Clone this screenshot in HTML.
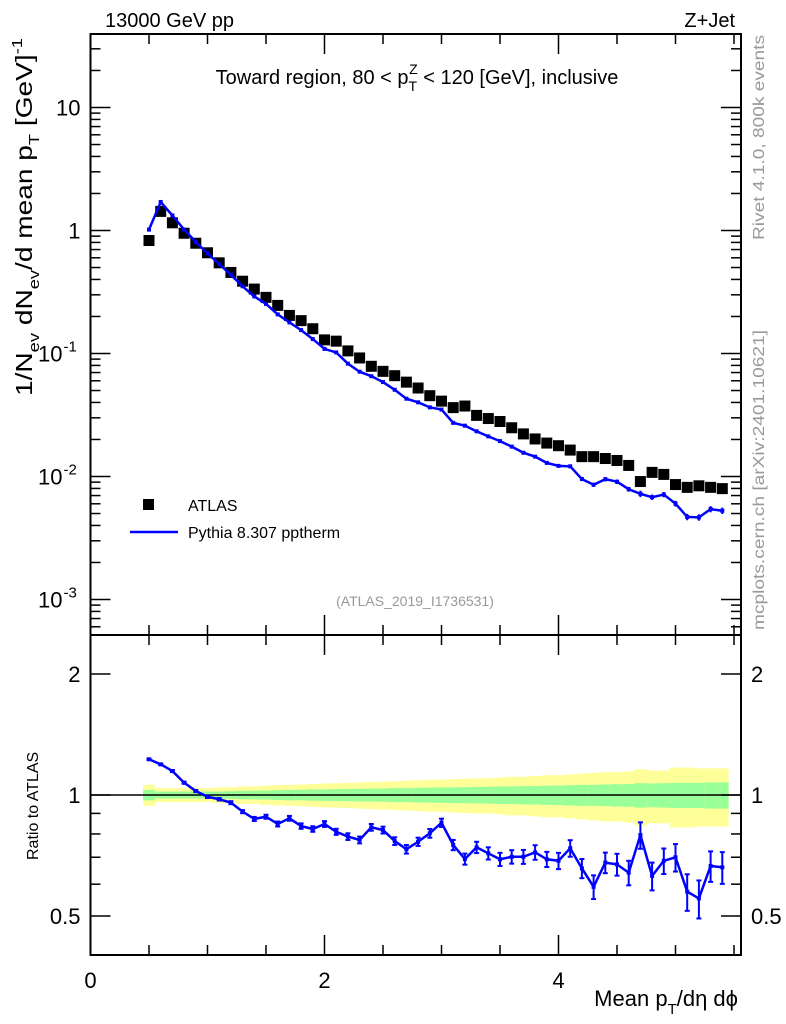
<!DOCTYPE html>
<html><head><meta charset="utf-8">
<style>
html,body{margin:0;padding:0;background:#fff;}
svg{display:block;font-family:"Liberation Sans",sans-serif;}
</style></head>
<body>
<svg id="chart" width="786" height="1024" viewBox="0 0 786 1024" xmlns="http://www.w3.org/2000/svg">
<g id="bands"></g>
<g id="grid"></g>
<g id="marks"></g>
<text x="105" y="27" font-size="20">13000 GeV pp</text>
<text x="735" y="27" font-size="20" text-anchor="end">Z+Jet</text>
<text x="417" y="84" font-size="20" text-anchor="middle">Toward region, 80 &lt; p<tspan font-size="14" dy="7">T</tspan><tspan font-size="14" dx="-8" dy="-17">Z</tspan><tspan dy="10"> &lt; 120 [GeV], inclusive</tspan></text>
<text x="415" y="606" font-size="14" fill="#999" text-anchor="middle">(ATLAS_2019_I1736531)</text>
<text transform="translate(764,240) rotate(-90)" font-size="16" fill="#999" textLength="205" lengthAdjust="spacingAndGlyphs">Rivet 4.1.0,  800k events</text>
<text transform="translate(764,630) rotate(-90)" font-size="16" fill="#999" textLength="300" lengthAdjust="spacingAndGlyphs">mcplots.cern.ch [arXiv:2401.10621]</text>
<text transform="translate(32,396) rotate(-90)" font-size="23" textLength="358" lengthAdjust="spacingAndGlyphs">1/N<tspan font-size="15" dy="7">ev</tspan><tspan dy="-7"> dN</tspan><tspan font-size="15" dy="7">ev</tspan><tspan dy="-7">/d mean p</tspan><tspan font-size="15" dy="7">T</tspan><tspan dy="-7"> [GeV]</tspan><tspan font-size="15" dy="-10">-1</tspan></text>
<text transform="translate(38,860) rotate(-90)" font-size="16">Ratio to ATLAS</text>
<text x="738" y="1006" font-size="22" text-anchor="end">Mean p<tspan font-size="15" dy="8">T</tspan><tspan dy="-8">/dη dϕ</tspan></text>
<rect x="143" y="499" width="11" height="11" fill="#000"/>
<text x="188" y="511" font-size="16">ATLAS</text>
<line x1="130" y1="532" x2="178" y2="532" stroke="#0000ff" stroke-width="2.5"/>
<text x="188" y="538" font-size="16">Pythia 8.307 pptherm</text>
</svg>
<script>
const xCenters=[0.5,0.6,0.7,0.8,0.9,1.0,1.1,1.2,1.3,1.4,1.5,1.6,1.7,1.8,1.9,2.0,2.1,2.2,2.3,2.4,2.5,2.6,2.7,2.8,2.9,3.0,3.1,3.2,3.3,3.4,3.5,3.6,3.7,3.8,3.9,4.0,4.1,4.2,4.3,4.4,4.5,4.6,4.7,4.8,4.9,5.0,5.1,5.2,5.3,5.4];
const atlasValues=[0.829,1.43,1.155,0.95,0.788,0.659,0.546,0.456,0.387,0.334,0.286,0.246,0.204,0.185,0.159,0.129,0.126,0.105,0.092,0.0787,0.0716,0.066,0.0585,0.0524,0.0454,0.041,0.0363,0.0374,0.0314,0.0296,0.028,0.0249,0.0222,0.0202,0.0187,0.0178,0.0164,0.0145,0.0145,0.014,0.0135,0.0123,0.0091,0.0108,0.0104,0.0086,0.00816,0.0084,0.00816,0.00797];
const mcValues=[1.017,1.705,1.325,1.019,0.806,0.652,0.533,0.436,0.352,0.291,0.253,0.208,0.179,0.155,0.131,0.109,0.102,0.0827,0.0711,0.0654,0.0586,0.0507,0.0429,0.0401,0.0365,0.035,0.0273,0.0259,0.0233,0.0212,0.0194,0.0175,0.0156,0.0145,0.0129,0.0122,0.0121,0.00953,0.00857,0.00951,0.00907,0.00788,0.00723,0.00679,0.00713,0.00602,0.00469,0.00465,0.00543,0.00527];
const ratioValues=[1.227,1.192,1.147,1.073,1.023,0.99,0.976,0.957,0.909,0.872,0.883,0.847,0.875,0.837,0.823,0.847,0.81,0.788,0.773,0.831,0.818,0.768,0.733,0.765,0.803,0.853,0.751,0.693,0.741,0.716,0.692,0.702,0.702,0.72,0.692,0.686,0.737,0.657,0.591,0.679,0.672,0.641,0.795,0.629,0.686,0.7,0.575,0.553,0.666,0.661];
const ratioErr=[0.005,0.005,0.006,0.006,0.006,0.007,0.007,0.008,0.008,0.01,0.01,0.012,0.012,0.013,0.013,0.014,0.014,0.015,0.015,0.016,0.016,0.017,0.018,0.018,0.02,0.02,0.022,0.022,0.024,0.025,0.026,0.027,0.028,0.03,0.03,0.032,0.035,0.036,0.04,0.04,0.042,0.045,0.06,0.05,0.05,0.055,0.06,0.06,0.058,0.06];
const statErr=[0.03,0.02,0.02,0.02,0.02,0.02,0.02,0.022,0.024,0.025,0.026,0.028,0.03,0.03,0.032,0.033,0.034,0.035,0.036,0.037,0.038,0.04,0.04,0.042,0.043,0.044,0.045,0.046,0.047,0.048,0.05,0.05,0.052,0.053,0.055,0.056,0.058,0.06,0.06,0.062,0.064,0.065,0.07,0.068,0.07,0.072,0.072,0.072,0.075,0.075];
const totErr=[0.06,0.04,0.04,0.04,0.04,0.04,0.045,0.045,0.05,0.05,0.055,0.058,0.06,0.062,0.065,0.068,0.07,0.072,0.075,0.078,0.08,0.082,0.085,0.088,0.09,0.092,0.095,0.098,0.1,0.1,0.105,0.11,0.11,0.115,0.12,0.12,0.125,0.13,0.135,0.14,0.14,0.145,0.16,0.15,0.15,0.17,0.17,0.165,0.165,0.165];
const xTicks=[0,2,4];
const yMainTicks=[{v:10,l:"10"},{v:1,l:"1"},{v:0.1,l:"10",e:"-1"},{v:0.01,l:"10",e:"-2"},{v:0.001,l:"10",e:"-3"}];
const yRatioTicks=[2,1,0.5];

const NS="http://www.w3.org/2000/svg";
const L=90.5,R=741,MT=34,MB=635,RB=955;
const X=v=>L+117*v;
const Y=v=>230.5-123*Math.log10(v);
const YR=r=>795-121*Math.log2(r);
function mk(parent,tag,attrs){const e=document.createElementNS(NS,tag);for(const k in attrs)e.setAttribute(k,attrs[k]);document.getElementById(parent).appendChild(e);return e;}

for(let i=0;i<xCenters.length;i++){
  const x0=X(xCenters[i]-0.05),w=X(xCenters[i]+0.05)-x0+0.5;
  const y1=mk('bands','rect',{x:x0,y:YR(1+totErr[i]),width:w,height:YR(1-totErr[i])-YR(1+totErr[i]),fill:'#ffff99'});
  
  
  const g=mk('bands','rect',{x:x0,y:YR(1+statErr[i]),width:w,height:YR(1-statErr[i])-YR(1+statErr[i]),fill:'#99ff99'});
  
  
}
for(const [t,b,n] of [[MT,MB,'main-frame'],[MB,RB,'ratio-frame']]){
  const f=mk('grid','rect',{x:L,y:t,width:R-L,height:b-t,fill:'none',stroke:'#000','stroke-width':2});
  
  
}
const ref=mk('grid','line',{x1:L,x2:R,y1:YR(1),y2:YR(1),stroke:'#000','stroke-width':1.5});


for(let v=0;v<=5.5;v+=0.5){
  const major=Math.abs(v-Math.round(v/2)*2)<1e-6;
  const len=major?20:10;
  for(const [yb,yt] of [[MB,MT],[RB,MB]]){
    mk('grid','line',{x1:X(v),x2:X(v),y1:yb,y2:yb-len,stroke:'#000','stroke-width':1.5});
    mk('grid','line',{x1:X(v),x2:X(v),y1:yt,y2:yt+len,stroke:'#000','stroke-width':1.5});
  }
}
xTicks.forEach(v=>{const t=mk('grid','text',{x:X(v),y:RB+33,'font-size':22,'text-anchor':'middle'});t.textContent=v;

});
for(let d=-4;d<=1;d++){for(let m=1;m<10;m++){const v=m*Math.pow(10,d);const y=Y(v);if(y<MT||y>MB)continue;const len=m==1?20:10;
  mk('grid','line',{x1:L,x2:L+len,y1:y,y2:y,stroke:'#000','stroke-width':1.5});
  mk('grid','line',{x1:R,x2:R-len,y1:y,y2:y,stroke:'#000','stroke-width':1.5});}}
yMainTicks.forEach(t=>{const e=mk('grid','text',{x:t.e?L-28:L-10,y:Y(t.v)+8,'font-size':22,'text-anchor':'end'});e.textContent=t.l;


if(t.e){const s=mk('grid','text',{x:L-27,y:Y(t.v)-2,'font-size':15});s.textContent=t.e;}});
for(const r of [0.5,0.6,0.7,0.8,0.9,1,2]){const y=YR(r);const len=(r==0.5||r==1||r==2)?20:10;
  mk('grid','line',{x1:L,x2:L+len,y1:y,y2:y,stroke:'#000','stroke-width':1.5});
  mk('grid','line',{x1:R,x2:R-len,y1:y,y2:y,stroke:'#000','stroke-width':1.5});}
yRatioTicks.forEach(r=>{for(const [x,a] of [[L-10,'end'],[R+10,'start']]){const e=mk('grid','text',{x:x,y:YR(r)+8,'font-size':22,'text-anchor':a});e.textContent=r;

}});
atlasValues.forEach((v,i)=>{const s=mk('marks','rect',{x:X(xCenters[i])-5.5,y:Y(v)-5.5,width:11,height:11,fill:'#000'});

});
const mcPts=mcValues.map((v,i)=>X(xCenters[i])+','+Y(v)).join(' ');
const ml=mk('marks','polyline',{points:mcPts,fill:'none',stroke:'#0000ff','stroke-width':2.5});


mcValues.forEach((v,i)=>{const x=X(xCenters[i]);const e=ratioErr[i];
  mk('marks','line',{x1:x,x2:x,y1:Y(v*(1+e)),y2:Y(v*(1-e)),stroke:'#0000ff','stroke-width':2});
  mk('marks','rect',{x:x-2,y:Y(v)-2,width:4,height:4,fill:'#0000ff'});});
const rPts=ratioValues.map((v,i)=>X(xCenters[i])+','+YR(v)).join(' ');
const rl=mk('marks','polyline',{points:rPts,fill:'none',stroke:'#0000ff','stroke-width':2.5});


ratioValues.forEach((v,i)=>{const x=X(xCenters[i]);const e=ratioErr[i];const y1=YR(v+e),y2=YR(v-e);
  mk('marks','line',{x1:x,x2:x,y1:y1,y2:y2,stroke:'#0000ff','stroke-width':2});
  mk('marks','line',{x1:x-2.5,x2:x+2.5,y1:y1,y2:y1,stroke:'#0000ff','stroke-width':2});
  mk('marks','line',{x1:x-2.5,x2:x+2.5,y1:y2,y2:y2,stroke:'#0000ff','stroke-width':2});
  mk('marks','rect',{x:x-2,y:YR(v)-2,width:4,height:4,fill:'#0000ff'});});
</script>
</body></html>
